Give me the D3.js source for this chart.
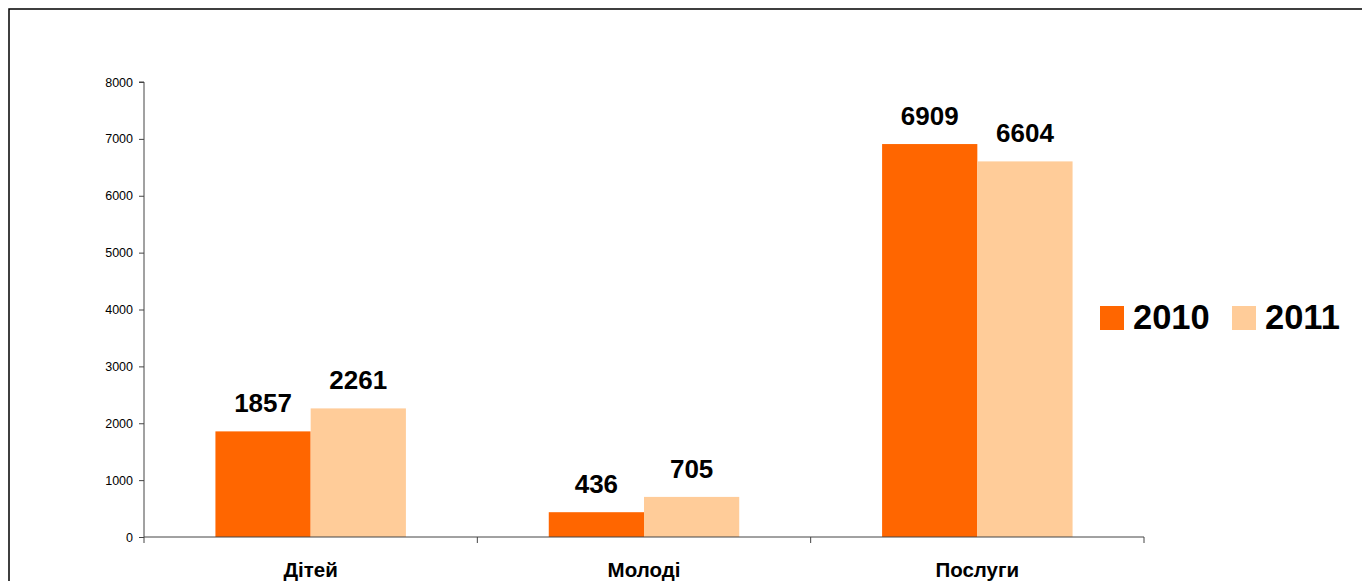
<!DOCTYPE html>
<html><head><meta charset="utf-8">
<script src="https://cdn.jsdelivr.net/npm/d3@7"></script>
<style>body{margin:0;background:#fff}svg{display:block;font-family:Arial,"Liberation Sans",sans-serif}</style>
</head><body>
<svg id="c" width="1362" height="581"></svg>
<script>
const categories = ["Дітей", "Молоді", "Послуги"];
const seriesNames = ["2010", "2011"];
const values2010 = [1857, 436, 6909];
const values2011 = [2261, 705, 6604];
const yTicks = [0, 1000, 2000, 3000, 4000, 5000, 6000, 7000, 8000];
const colors = ["#FF6600", "#FFCC99"];

(function () {
const svg = d3.select("#c");
svg.append("rect").attr("x", 9).attr("y", 9).attr("width", 1400).attr("height", 620)
  .attr("fill", "none").attr("stroke", "#000").attr("stroke-width", 1.5);

const pLeft = 144, pRight = 1144, pTop = 82, pBottom = 537;
const x = d3.scaleBand().domain(categories).range([pLeft, pRight]).paddingInner(0).paddingOuter(0);
const y = d3.scaleLinear().domain([0, 8000]).range([pBottom, pTop]);
const barW = x.bandwidth() / (2 + 1.5);
const gap = barW * 0.75;

const series = [values2010, values2011];
series.forEach((vals, si) => {
  const g = svg.append("g");
  g.selectAll("rect").data(categories).join("rect")
    .attr("x", c => x(c) + gap + si * barW)
    .attr("y", (c, i) => y(vals[i]))
    .attr("width", barW)
    .attr("height", (c, i) => pBottom - y(vals[i]))
    .attr("fill", colors[si]);
  g.selectAll("text").data(categories).join("text")
    .attr("x", c => x(c) + gap + si * barW + barW / 2)
    .attr("y", (c, i) => y(vals[i]) - 19)
    .attr("text-anchor", "middle")
    .attr("font-weight", "bold").attr("font-size", 26)
    .text((c, i) => vals[i]);
});

// y axis
const yAxis = svg.append("g").attr("transform", `translate(${pLeft},0)`)
  .call(d3.axisLeft(y).tickValues(yTicks).tickSize(5).tickPadding(6).tickFormat(d3.format("d")));
yAxis.select(".domain").attr("stroke", "#444").attr("d", `M-5,${pTop}H0V${pBottom}`);
yAxis.selectAll(".tick line").attr("stroke", "#444");
yAxis.selectAll(".tick text").attr("font-size", 12.5).attr("fill", "#000").attr("font-family", "Arial, 'Liberation Sans', sans-serif");

// x axis
const xg = svg.append("g");
xg.append("line").attr("x1", pLeft).attr("x2", pRight).attr("y1", pBottom).attr("y2", pBottom).attr("stroke", "#444");
const bounds = [pLeft].concat(categories.map(c => x(c) + x.bandwidth()));
xg.selectAll("line.t").data(bounds).join("line").attr("class", "t")
  .attr("x1", d => d).attr("x2", d => d).attr("y1", pBottom).attr("y2", pBottom + 6).attr("stroke", "#444");
xg.selectAll("text").data(categories).join("text")
  .attr("x", c => x(c) + x.bandwidth() / 2).attr("y", 577)
  .attr("text-anchor", "middle").attr("font-weight", "bold").attr("font-size", 20.5)
  .text(c => c);

// legend
const lg = svg.append("g");
const lx = [1100, 1232];
seriesNames.forEach((s, i) => {
  lg.append("rect").attr("x", lx[i]).attr("y", 306).attr("width", 24).attr("height", 24).attr("fill", colors[i]);
  lg.append("text").attr("x", lx[i] + 33).attr("y", 329).attr("font-weight", "bold").attr("font-size", 34.5).text(s);
});
})();
</script>
</body></html>
